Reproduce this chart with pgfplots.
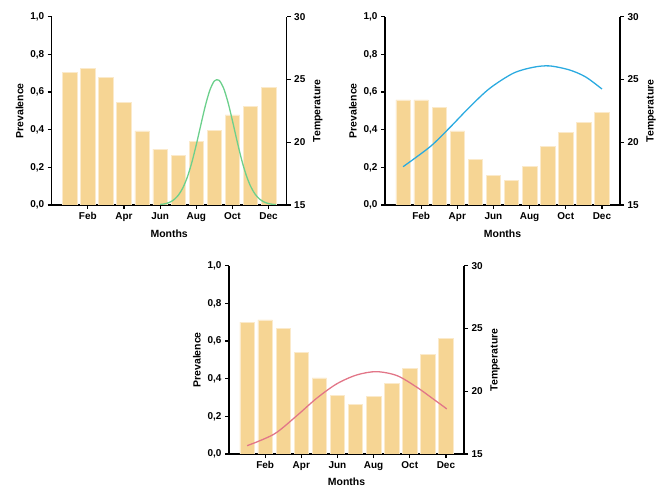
\documentclass[border=0pt]{standalone}
\usepackage{fontspec}
\setmainfont{Liberation Sans}
\usepackage{pgfplots}
\pgfplotsset{compat=1.18}
\usepackage{pgfplotstable}

\definecolor{barc}{HTML}{F6D594}
\definecolor{bare}{HTML}{FBEACB}
\definecolor{gc}{HTML}{6CD08C}
\definecolor{bc}{HTML}{2AAAE0}
\definecolor{pc}{HTML}{E27688}

\pgfplotstableread{
m p
1 0.706
2 0.724
3 0.676
4 0.545
5 0.393
6 0.297
7 0.265
8 0.338
9 0.398
10 0.478
11 0.522
12 0.625
}\barsA
\pgfplotstableread{
m t
6.0 15.04
6.25 15.09
6.5 15.20
6.75 15.41
7.0 15.77
7.25 16.35
7.5 17.21
7.75 18.38
8.0 19.81
8.25 21.38
8.5 22.91
8.75 24.15
9.0 24.88
9.25 24.94
9.5 24.34
9.75 23.19
10.0 21.70
10.25 20.12
10.5 18.64
10.75 17.42
11.0 16.50
11.25 15.87
11.5 15.47
11.75 15.24
12.0 15.11
12.25 15.05
12.4 15.03
}\tempA
\pgfplotstableread{
m p
1 0.558
2 0.558
3 0.517
4 0.393
5 0.244
6 0.158
7 0.131
8 0.207
9 0.310
10 0.384
11 0.437
12 0.492
}\barsB
\pgfplotstableread{
m t
1.0 18.05
2.5 19.65
3.6 21.19
4.7 22.83
5.8 24.30
7.1 25.50
8.2 25.97
9.1 26.08
10.2 25.76
11.1 25.20
12.0 24.24
}\tempB
\pgfplotstableread{
m p
1 0.701
2 0.712
3 0.665
4 0.538
5 0.404
6 0.313
7 0.265
8 0.306
9 0.373
10 0.453
11 0.531
12 0.612
}\barsC
\pgfplotstableread{
m t
1.0 15.66
2.5 16.59
3.75 18.05
4.85 19.44
5.95 20.58
7.05 21.29
8.15 21.56
9.3 21.24
10.4 20.31
11.3 19.38
12.05 18.59
}\tempC

\pgfplotsset{
  base/.style={
    scale only axis, width=235bp, height=188.3bp,
    xmin=0, xmax=13,
    axis line style={line width=1.3pt, black},
    tick style={line width=1.2pt, black},
    tick align=outside, major tick length=4bp,
    tick label style={font=\bfseries\fontsize{10}{12}\selectfont},
    label style={font=\bfseries\fontsize{10.5}{12}\selectfont},
    /pgf/number format/assume math mode=true,
  },
  left/.style={base,
    axis x line*=bottom, axis y line*=left,
    ymin=0, ymax=1, ytick={0,0.2,0.4,0.6,0.8,1.0},
    xtick={2,4,6,8,10,12}, xticklabels={Feb,Apr,Jun,Aug,Oct,Dec},
    yticklabel style={/pgf/number format/.cd, use comma, fixed, fixed zerofill, precision=1},
    xlabel={Months}, ylabel={Prevalence},
    xlabel style={yshift=-1.5bp},
    ylabel style={yshift=0bp},
  },
  right/.style={base,
    axis x line=none, axis y line*=right,
    ymin=15, ymax=30, ytick={15,20,25,30},
    ylabel={Temperature},
    ylabel style={yshift=-1bp},
  },
  bars/.style={ybar, bar width=0.8, fill=barc, draw=bare, line width=0.6pt, bar shift=0pt},
}

\begin{document}
\begin{tikzpicture}
\useasboundingbox (0,0) rectangle (660bp,488bp);
% Panel 1
\begin{axis}[left, at={(51.7bp,283bp)}, anchor=south west]
\addplot[bars] table[x=m,y=p] {\barsA};
\end{axis}
\begin{axis}[right, at={(51.7bp,283bp)}, anchor=south west]
\addplot[gc, line width=1.3pt, smooth] table[x=m,y=t] {\tempA};
\end{axis}
% Panel 2
\begin{axis}[left, at={(385bp,283bp)}, anchor=south west]
\addplot[bars] table[x=m,y=p] {\barsB};
\end{axis}
\begin{axis}[right, at={(385bp,283bp)}, anchor=south west]
\addplot[bc, line width=1.3pt, smooth] table[x=m,y=t] {\tempB};
\end{axis}
% Panel 3
\begin{axis}[left, at={(229bp,34bp)}, anchor=south west, xlabel style={yshift=1bp}]
\addplot[bars] table[x=m,y=p] {\barsC};
\end{axis}
\begin{axis}[right, at={(229bp,34bp)}, anchor=south west]
\addplot[pc, line width=1.3pt, smooth] table[x=m,y=t] {\tempC};
\end{axis}
\end{tikzpicture}
\end{document}
